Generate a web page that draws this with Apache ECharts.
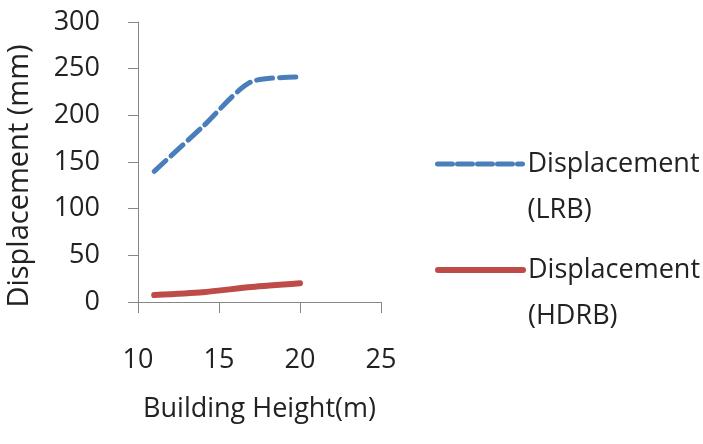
<!DOCTYPE html>
<html>
<head>
<meta charset="utf-8">
<script src="https://cdn.jsdelivr.net/npm/echarts@6/dist/echarts.min.js"></script>
<style>html,body{margin:0;padding:0;background:#fff}#c{width:703px;height:444px}</style>
</head>
<body>
<div id="c"></div>
<script>
var heights = [11, 14, 17, 20];
var lrb = [140, 188, 236, 241];
var hdrb = [7.5, 10.5, 16, 20];
var xTicks = [10, 15, 20, 25];
var yTicks = [0, 50, 100, 150, 200, 250, 300];
var seriesNames = ['Displacement\n(LRB)', 'Displacement\n(HDRB)'];

var FONT = 'Open Sans';
var FS = 27;
var chart = echarts.init(document.getElementById('c'));
function pairs(xs, ys){ return xs.map(function(x,i){return [x, ys[i]];}); }
var legendText = {fontFamily: FONT, fontSize: FS, color: '#222', lineHeight: 46};
function legendFmt(n){ return ' \n' + n; }
chart.setOption({
  animation: false,
  backgroundColor: '#fff',
  grid: {left: 138, right: 322, top: 22, bottom: 142},
  legend: [
    {data: [seriesNames[0]], left: 435, top: 95, padding: 0, itemWidth: 85, itemHeight: 14, formatter: legendFmt,
     textStyle: legendText, selectedMode: false, itemStyle: {color: 'transparent', borderWidth: 0},
     lineStyle: {width: 5, type: [15, 5], cap: 'round'}},
    {data: [seriesNames[1]], left: 435, top: 201, padding: 0, itemWidth: 85, itemHeight: 14, formatter: legendFmt,
     textStyle: legendText, selectedMode: false, itemStyle: {color: 'transparent', borderWidth: 0},
     lineStyle: {width: 6, cap: 'round'}}
  ],
  xAxis: {
    type: 'value', min: xTicks[0], max: xTicks[xTicks.length-1], interval: 5,
    name: 'Building Height(m)', nameLocation: 'middle', nameGap: 94,
    nameTextStyle: {fontFamily: FONT, fontSize: FS, color: '#222'},
    axisLine: {show: true, lineStyle: {color: '#868686', width: 1}},
    axisTick: {show: true, length: 11, lineStyle: {color: '#868686'}},
    axisLabel: {fontFamily: FONT, fontSize: FS, color: '#222', margin: 45},
    splitLine: {show: false}
  },
  yAxis: {
    type: 'value', min: yTicks[0], max: yTicks[yTicks.length-1], interval: 50,
    name: 'Displacement (mm)', nameLocation: 'middle', nameGap: 104, nameRotate: 90,
    nameTextStyle: {fontFamily: FONT, fontSize: 29, color: '#222', padding: [0, 28, 0, 0]},
    axisLine: {show: true, lineStyle: {color: '#868686', width: 1}},
    axisTick: {show: true, length: 10, lineStyle: {color: '#868686'}},
    axisLabel: {fontFamily: FONT, fontSize: FS, color: '#222', margin: 38},
    splitLine: {show: false}
  },
  series: [
    {name: seriesNames[0], type: 'line', data: pairs(heights, lrb), smooth: 0.25, symbol: 'none',
     lineStyle: {color: '#4A7EBB', width: 5, type: [16, 7], cap: 'round'}, itemStyle: {color: '#4A7EBB'}},
    {name: seriesNames[1], type: 'line', data: pairs(heights, hdrb), smooth: 0.25, symbol: 'none',
     lineStyle: {color: '#BE4B48', width: 6, cap: 'round'}, itemStyle: {color: '#BE4B48'}}
  ]
});
</script>
</body>
</html>
